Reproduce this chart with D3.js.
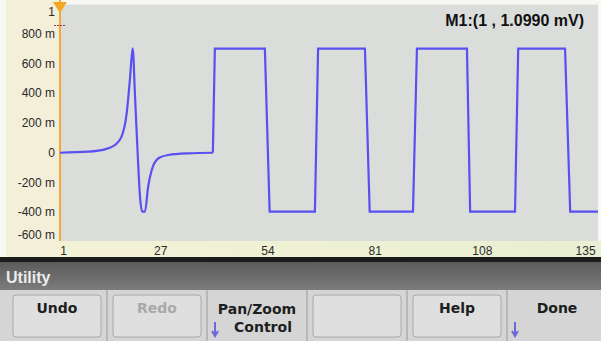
<!DOCTYPE html>
<html><head><meta charset="utf-8">
<script src="https://cdn.jsdelivr.net/npm/d3@7"></script>
<style>html,body{margin:0;padding:0;background:#fff;}svg{display:block;}</style>
</head><body>
<svg id="c" width="601" height="341"></svg>
<script>
// ---- data ----
const xTickValues = [1, 27, 54, 81, 108, 135];
const yTickValues = [1, 0.8, 0.6, 0.4, 0.2, 0, -0.2, -0.4, -0.6];
const yTickLabels = ["1", "800 m", "600 m", "400 m", "200 m", "0", "-200 m", "-400 m", "-600 m"];
// smooth pulse section
const pulseIndex = [1, 8.05, 12.3, 14.85, 16.5, 17.8, 18.6, 19.3, 19.9, 20.6, 21.15, 21.7, 22.4, 23.2, 24.1, 25.8, 28.3, 33.3, 39.5];
const pulseValue = [0, 0.007, 0.023, 0.052, 0.108, 0.267, 0.489, 0.702, 0.377, -0.027, -0.295, -0.396, -0.396, -0.228, -0.116, -0.037, -0.015, -0.004, 0];
// square-wave section
const squareIndex = [39.5, 40, 52.6, 53.8, 65.2, 66, 77.8, 79, 89.9, 90.9, 103.5, 104.3, 115.6, 116.4, 128.2, 129.5, 136.5];
const squareValue = [0, 0.7, 0.7, -0.396, -0.396, 0.7, 0.7, -0.396, -0.396, 0.7, 0.7, -0.396, -0.396, 0.7, 0.7, -0.396, -0.396];
const markerText = "M1:(1 , 1.0990 mV)";
const menuTitle = "Utility";
const buttons = [
  {label: ["Undo"], box: true, dim: false, arrow: false},
  {label: ["Redo"], box: true, dim: true, arrow: false},
  {label: ["Pan/Zoom", "Control"], box: false, dim: false, arrow: true},
  {label: [""], box: true, dim: false, arrow: false},
  {label: ["Help"], box: true, dim: false, arrow: false},
  {label: ["Done"], box: false, dim: false, arrow: true}
];

// ---- layout ----
const svg = d3.select("#c");
const plot = {l: 60, r: 598, t: 4, b: 241};
const x = d3.scaleLinear().domain([1, 136.5]).range([plot.l, plot.r]);
const y = d3.scaleLinear().domain([-0.6, 1]).range([242, 4]);

const font = "'Liberation Sans', Arial, sans-serif";

// backgrounds
svg.append("rect").attr("x", 0).attr("y", 0).attr("width", 601).attr("height", 341).attr("fill", "#f7f7f4");
svg.append("rect").attr("x", 6).attr("y", 0).attr("width", plot.l - 6).attr("height", 257).attr("fill", "#f3efd9");
const xg = svg.append("defs").append("linearGradient").attr("id", "xstrip").attr("x1", 0).attr("x2", 1);
xg.append("stop").attr("offset", 0).attr("stop-color", "#f4f2d6");
xg.append("stop").attr("offset", 1).attr("stop-color", "#e9efd2");
svg.append("rect").attr("x", plot.l).attr("y", plot.b).attr("width", 601 - plot.l).attr("height", 16).attr("fill", "url(#xstrip)");
svg.append("rect").attr("x", plot.l).attr("y", plot.t).attr("width", plot.r - plot.l).attr("height", plot.b - plot.t)
  .attr("fill", "#dbdddb");
svg.append("line").attr("x1", plot.l).attr("x2", plot.r).attr("y1", plot.t + 0.5).attr("y2", plot.t + 0.5)
  .attr("stroke", "#ececec").attr("stroke-width", 1);

// y axis labels (clamped inside the strip)
const yLab = svg.append("g");
yTickValues.forEach((v, i) => {
  let yy = y(v);
  yy = Math.max(12, Math.min(235, yy));
  yLab.append("text").attr("x", 55).attr("y", yy).attr("dy", "0.35em")
    .attr("text-anchor", "end").attr("font-family", font).attr("font-size", 12)
    .attr("fill", "#2a2a2a").text(yTickLabels[i]);
});

// x axis labels
const xAxis = d3.axisBottom(x).tickValues(xTickValues).tickSize(0).tickFormat(d3.format("d"));
const xa = svg.append("g").attr("transform", `translate(0,${plot.b})`).call(xAxis);
xa.select(".domain").remove();
xa.selectAll("text").attr("font-family", font).attr("font-size", 12).attr("fill", "#2a2a2a").attr("dy", "0.9em")
  .attr("text-anchor", "middle")
  .attr("dx", d => d === 1 ? 3 : (d === 135 ? -7 : -3));

// orange y axis line
svg.append("line").attr("x1", plot.l).attr("x2", plot.l).attr("y1", 0).attr("y2", plot.b)
  .attr("stroke", "#f4a93a").attr("stroke-width", 2);
// marker triangle
svg.append("path").attr("d", `M${plot.l - 7},2 L${plot.l + 7},2 L${plot.l},13 Z`).attr("fill", "#f5a623");
svg.append("line").attr("x1", plot.l - 6).attr("x2", plot.l + 6).attr("y1", 25.5).attr("y2", 25.5)
  .attr("stroke", "#9a3a4a").attr("stroke-width", 1).attr("stroke-dasharray", "2,1");

// waveform
const pulsePts = pulseIndex.map((d, i) => [d, pulseValue[i]]);
const squarePts = squareIndex.map((d, i) => [d, squareValue[i]]);
const smooth = d3.line().x(d => x(d[0])).y(d => y(d[1])).curve(d3.curveMonotoneX);
const sharp = d3.line().x(d => x(d[0])).y(d => y(d[1]));
[[pulsePts, smooth], [squarePts, sharp]].forEach(([p, gen]) => {
  svg.append("path").datum(p).attr("d", gen).attr("fill", "none")
    .attr("stroke", "#5a50f0").attr("stroke-width", 2.2).attr("stroke-linejoin", "miter");
});

// marker readout
svg.append("text").attr("x", 584).attr("y", 26).attr("text-anchor", "end").attr("font-family", font)
  .attr("font-size", 16).attr("font-weight", "bold").attr("fill", "#111").text(markerText);

// bottom menu
svg.append("rect").attr("x", 0).attr("y", 257).attr("width", 601).attr("height", 5).attr("fill", "#1c1c1c");
const mg = svg.append("defs").append("linearGradient").attr("id", "menu").attr("x1", 0).attr("x2", 0).attr("y1", 0).attr("y2", 1);
mg.append("stop").attr("offset", 0).attr("stop-color", "#5b5b5b");
mg.append("stop").attr("offset", 1).attr("stop-color", "#7c7c7c");
svg.append("rect").attr("x", 0).attr("y", 262).attr("width", 601).attr("height", 28).attr("fill", "url(#menu)");
svg.append("text").attr("x", 6).attr("y", 283).attr("font-family", font).attr("font-size", 16).attr("font-weight", "bold")
  .attr("fill", "#ececec").text(menuTitle);
svg.append("rect").attr("x", 0).attr("y", 290).attr("width", 601).attr("height", 51).attr("fill", "#d4d5d4");

const bx = d3.scaleBand().domain(d3.range(buttons.length)).range([5, 605]);
buttons.forEach((b, i) => {
  const x0 = bx(i), w = bx.bandwidth();
  const g = svg.append("g");
  if (i > 0) g.append("line").attr("x1", x0 + 2).attr("x2", x0 + 2).attr("y1", 290).attr("y2", 341)
    .attr("stroke", "#9a9a9a").attr("stroke-width", 1);
  if (b.box) g.append("rect").attr("x", x0 + 8).attr("y", 295).attr("width", w - 12).attr("height", 42)
    .attr("rx", 3).attr("fill", "#dedfde").attr("stroke", "#a8a8a8");
  const cx = x0 + w / 2 + 2;
  if (b.label.length === 1) {
    g.append("text").attr("x", cx).attr("y", 313).attr("text-anchor", "middle").attr("font-family", "'DejaVu Sans', sans-serif")
      .attr("font-size", 14).attr("font-weight", "bold").attr("fill", b.dim ? "#a9a9a9" : "#1e1e1e").text(b.label[0]);
  } else {
    b.label.forEach((t, k) => g.append("text").attr("x", cx + (k ? 6 : 0)).attr("y", 314 + k * 18).attr("text-anchor", "middle")
      .attr("font-family", "'DejaVu Sans', sans-serif").attr("font-size", 14).attr("font-weight", "bold").attr("fill", "#1e1e1e").text(t));
  }
  if (b.arrow) g.append("path").attr("d", `M${x0 + 10},322 L${x0 + 10},334 M${x0 + 7},331 L${x0 + 10},336 L${x0 + 13},331`)
    .attr("stroke", "#6b6bd8").attr("stroke-width", 2).attr("fill", "none");
});
</script>
</body></html>
